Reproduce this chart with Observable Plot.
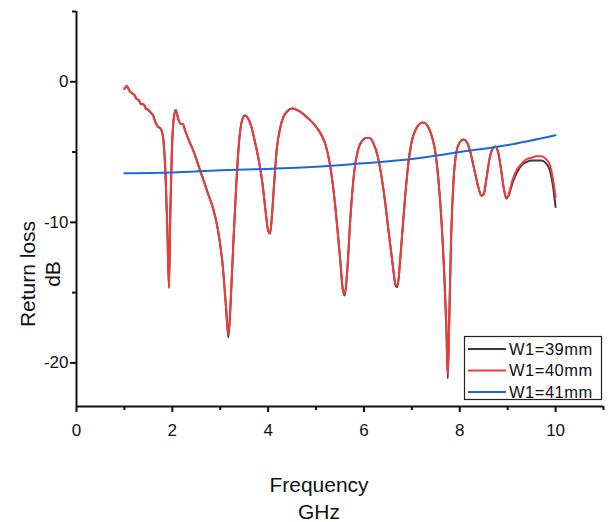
<!DOCTYPE html>
<html>
<head>
<meta charset="utf-8">
<script src="https://cdn.jsdelivr.net/npm/d3@7"></script>
<script src="https://cdn.jsdelivr.net/npm/@observablehq/plot@0.6"></script>
<style>
  html, body { margin: 0; padding: 0; background: #fff; }
  #chart { width: 609px; height: 522px; }
</style>
</head>
<body>
<div id="chart"></div>
<script>
// Frequency (GHz) for W1=39mm and W1=40mm
const freq = [
  1.00,1.05,1.10,1.15,1.20,1.25,1.30,1.35,1.40,1.45,1.50,1.55,1.60,1.65,1.70,1.75,1.80,1.85,1.90,1.93,
  1.96,1.99,2.03,2.07,2.12,2.17,2.22,2.27,2.35,2.45,2.55,2.65,2.75,2.85,2.95,3.05,3.12,3.17,3.22,3.28,
  3.34,3.40,3.46,3.52,3.58,3.65,3.72,3.80,3.88,3.95,4.00,4.04,4.08,4.13,4.18,4.25,4.32,4.40,4.50,4.60,
  4.70,4.80,4.90,5.00,5.10,5.20,5.28,5.35,5.42,5.50,5.56,5.60,5.65,5.72,5.80,5.88,5.96,6.05,6.12,6.20,
  6.28,6.36,6.44,6.52,6.60,6.66,6.70,6.76,6.84,6.92,7.00,7.08,7.16,7.24,7.32,7.40,7.48,7.55,7.62,7.68,
  7.72,7.75,7.78,7.82,7.87,7.93,8.00,8.08,8.15,8.22,8.30,8.38,8.45,8.50,8.56,8.62,8.68,8.74,8.80,8.86,
  8.92,8.97,9.02,9.10,9.20,9.30,9.40,9.50,9.60,9.70,9.80,9.88,9.94,10.00
];
// Return loss (dB), W1=40mm
const rl40 = [
  -0.5,-0.3,-0.6,-0.8,-0.9,-1.2,-1.3,-1.6,-1.6,-1.9,-2.0,-2.2,-2.4,-2.9,-3.2,-3.3,-3.8,-6.0,-11.0,-14.7,
  -9.0,-5.0,-2.6,-2.0,-2.6,-3.0,-3.0,-3.5,-4.2,-5.0,-6.0,-7.0,-8.0,-9.0,-10.5,-13.0,-16.0,-18.0,-15.5,-11.0,
  -7.0,-4.0,-2.7,-2.4,-2.6,-3.2,-4.2,-5.5,-7.2,-9.3,-10.6,-10.8,-9.5,-7.0,-4.8,-3.3,-2.5,-2.1,-1.9,-2.0,
  -2.2,-2.5,-2.8,-3.2,-3.7,-4.5,-5.7,-7.3,-9.5,-12.5,-14.8,-15.1,-13.5,-9.5,-6.3,-4.8,-4.2,-4.0,-4.0,-4.4,
  -5.2,-6.6,-8.5,-10.8,-13.0,-14.4,-14.5,-12.5,-9.0,-6.0,-4.2,-3.4,-3.0,-2.9,-3.1,-3.7,-4.8,-6.8,-10.0,-14.0,
  -17.5,-20.8,-17.0,-11.0,-7.0,-5.0,-4.3,-4.1,-4.3,-5.0,-6.2,-7.4,-8.1,-8.0,-6.8,-5.5,-4.8,-4.6,-5.0,-6.2,
  -7.6,-8.3,-8.0,-7.0,-6.2,-5.8,-5.5,-5.4,-5.3,-5.3,-5.5,-5.9,-6.8,-8.2
];
// Return loss (dB), W1=39mm
const rl39 = [
  -0.5,-0.3,-0.6,-0.8,-0.9,-1.2,-1.3,-1.6,-1.6,-1.9,-2.0,-2.2,-2.4,-2.9,-3.2,-3.3,-3.8,-6.0,-11.0,-14.6,
  -9.0,-5.0,-2.6,-2.0,-2.6,-3.0,-3.0,-3.5,-4.2,-5.0,-6.0,-7.0,-8.0,-9.0,-10.5,-13.0,-16.0,-18.2,-15.5,-11.0,
  -7.0,-4.0,-2.7,-2.4,-2.6,-3.2,-4.2,-5.5,-7.2,-9.3,-10.6,-10.8,-9.5,-7.0,-4.8,-3.3,-2.5,-2.1,-1.9,-2.0,
  -2.2,-2.5,-2.8,-3.2,-3.7,-4.5,-5.7,-7.3,-9.5,-12.5,-14.8,-15.2,-13.5,-9.5,-6.3,-4.8,-4.2,-4.0,-4.0,-4.4,
  -5.2,-6.6,-8.5,-10.8,-13.0,-14.5,-14.6,-12.5,-9.0,-6.0,-4.2,-3.4,-3.0,-2.9,-3.1,-3.7,-4.8,-6.8,-10.0,-14.0,
  -17.5,-21.1,-17.0,-11.0,-7.0,-5.0,-4.3,-4.1,-4.3,-5.0,-6.2,-7.4,-8.1,-8.0,-6.8,-5.5,-4.8,-4.6,-5.0,-6.2,
  -7.6,-8.3,-8.1,-7.2,-6.4,-5.9,-5.7,-5.6,-5.6,-5.6,-5.8,-6.3,-7.3,-8.9
];
// W1=41mm
const freq41 = [1.0,2.0,3.0,4.0,5.0,6.0,7.0,8.0,9.0,10.0];
const rl41 = [-6.5,-6.45,-6.3,-6.2,-6.05,-5.8,-5.5,-5.0,-4.5,-3.8];

const seriesNames = ["W1=39mm","W1=40mm","W1=41mm"];
const seriesColors = ["#3c3c3c","#f23a3a","#1d68d8"];

const xMajor = [0,2,4,6,8,10];
const xMinor = [1,3,5,7,9,11];
const yMajor = [0,-10,-20];
const yMinor = [5,-5,-15];

const d39 = freq.map((f,i)=>({f, v: rl39[i]}));
const d40 = freq.map((f,i)=>({f, v: rl40[i]}));
const d41 = freq41.map((f,i)=>({f, v: rl41[i]}));

const font = "'Liberation Sans', Arial, sans-serif";

const plot = Plot.plot({
  width: 609,
  height: 522,
  marginLeft: 76,
  marginRight: 6,
  marginTop: 11,
  marginBottom: 116,
  style: {fontFamily: font, background: "#fff", color: "#111"},
  x: {domain: [0, 11]},
  y: {domain: [-23.1, 5]},
  marks: [
    Plot.axisX({ticks: xMajor, tickSize: 6, tickPadding: 11, fontSize: 17, label: null, strokeWidth: 2, stroke: "#111", tickFormat: d => String(d)}),
    Plot.axisX({ticks: xMinor, tickSize: 4, strokeWidth: 2, stroke: "#111", text: null, label: null}),
    Plot.axisY({ticks: yMajor, tickSize: 6, tickPadding: 2, fontSize: 17, label: null, strokeWidth: 2, stroke: "#111", tickFormat: d => String(d)}),
    Plot.axisY({ticks: yMinor, tickSize: 4, strokeWidth: 2, stroke: "#111", text: null, label: null}),
    Plot.ruleX([0], {stroke: "#111", strokeWidth: 2}),
    Plot.ruleY([-23.1], {stroke: "#111", strokeWidth: 2}),
    Plot.line(d39, {x: "f", y: "v", stroke: seriesColors[0], strokeWidth: 2, curve: "monotone-x"}),
    Plot.line(d40, {x: "f", y: "v", stroke: seriesColors[1], strokeWidth: 2, curve: "monotone-x"}),
    Plot.line(d41, {x: "f", y: "v", stroke: seriesColors[2], strokeWidth: 2, curve: "monotone-x"}),
    Plot.text(["Frequency\nGHz"], {frameAnchor: "bottom", lineAnchor: "middle", textAnchor: "middle", dy: 90, dx: -21, fontSize: 21, lineHeight: 1.29, fill: "#111"}),
    Plot.text(["Return loss\ndB"], {frameAnchor: "left", lineAnchor: "middle", textAnchor: "middle", rotate: -90, dx: -37, dy: 65, fontSize: 21, lineHeight: 1.2, fill: "#111"})
  ]
});

document.getElementById("chart").appendChild(plot);

// Legend inside the plot area
const svg = d3.select(plot);
const lg = svg.append("g").attr("font-family", font).attr("font-size", 16.5).attr("text-anchor", "start");
lg.append("rect").attr("x", 464.5).attr("y", 336.5).attr("width", 137).attr("height", 63)
  .attr("fill", "#fff").attr("stroke", "#222").attr("stroke-width", 1.2);
seriesNames.forEach((name, i) => {
  const yy = 349 + i * 21.5;
  lg.append("line").attr("x1", 468).attr("x2", 506).attr("y1", yy).attr("y2", yy)
    .attr("stroke", seriesColors[i]).attr("stroke-width", 2);
  lg.append("text").attr("x", 509).attr("y", yy).attr("dy", "0.36em")
    .attr("text-anchor", "start")
    .attr("letter-spacing", "0.5px").attr("fill", "#111").text(name);
});
</script>
</body>
</html>
